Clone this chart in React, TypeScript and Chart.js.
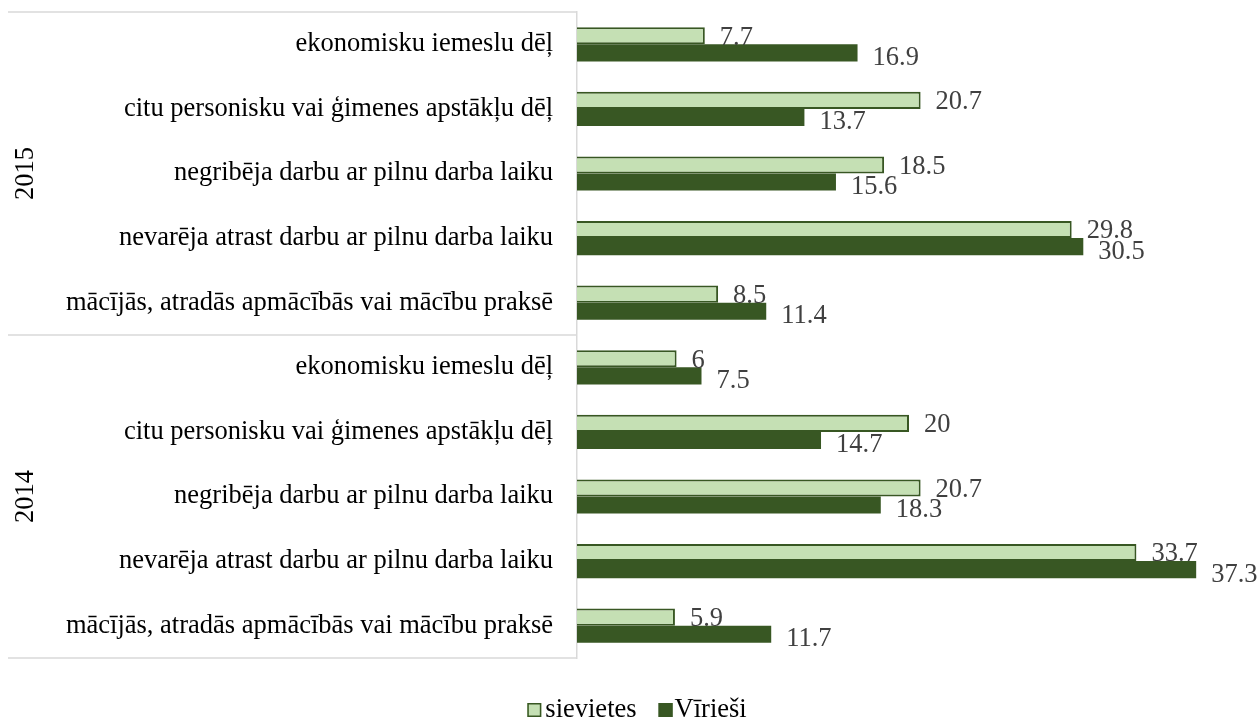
import React, { useEffect, useRef } from "react";
import { Chart, registerables } from "chart.js";

Chart.register(...registerables);

const years = ["2015", "2014"];
const reasons = [
  "ekonomisku iemeslu dēļ",
  "citu personisku vai ģimenes apstākļu dēļ",
  "negribēja darbu ar pilnu darba laiku",
  "nevarēja atrast darbu ar pilnu darba laiku",
  "mācījās, atradās apmācībās vai mācību praksē",
];
const categories = [...reasons, ...reasons];
const sievietes = [7.7, 20.7, 18.5, 29.8, 8.5, 6, 20, 20.7, 33.7, 5.9];
const virtiesi = [16.9, 13.7, 15.6, 30.5, 11.4, 7.5, 14.7, 18.3, 37.3, 11.7];
const seriesNames = ["sievietes", "Vīrieši"];

const FONT = "'Liberation Serif', 'Times New Roman', serif";
const LIGHT = "#C5E0B4";
const DARK = "#385723";

const decorPlugin = {
  id: "decor",
  afterDraw(chart: any) {
    const ctx = chart.ctx;
    const area = chart.chartArea;
    const y = chart.scales.y;
    ctx.save();
    // group box lines
    const mid = (y.getPixelForValue(4) + y.getPixelForValue(5)) / 2;
    ctx.strokeStyle = "#d9d9d9";
    ctx.lineWidth = 1.5;
    [area.top, mid, area.bottom].forEach((yy) => {
      ctx.beginPath();
      ctx.moveTo(8, yy);
      ctx.lineTo(area.left, yy);
      ctx.stroke();
    });
    // year labels
    ctx.fillStyle = "#000";
    ctx.font = `26.5px ${FONT}`;
    ctx.textAlign = "center";
    ctx.textBaseline = "middle";
    const groups = [
      [area.top, mid],
      [mid, area.bottom],
    ];
    years.forEach((yr, i) => {
      const cy = (groups[i][0] + groups[i][1]) / 2;
      ctx.save();
      ctx.translate(26, cy);
      ctx.rotate(-Math.PI / 2);
      ctx.fillText(yr, 0, 0);
      ctx.restore();
    });
    // data labels
    ctx.fillStyle = "#404040";
    ctx.textAlign = "left";
    chart.data.datasets.forEach((ds: any, di: number) => {
      const meta = chart.getDatasetMeta(di);
      meta.data.forEach((el: any, i: number) => {
        const off = di === 0 ? 2 : 5;
        ctx.fillText(String(ds.data[i]), el.x + 15, el.y + off);
      });
    });
    // legend
    ctx.font = `26.5px ${FONT}`;
    ctx.textBaseline = "alphabetic";
    const w1 = ctx.measureText(seriesNames[0]).width;
    const w2 = ctx.measureText(seriesNames[1]).width;
    const box = 14;
    const total = box + 4 + w1 + 22 + box + 2 + w2;
    let x = 637 - total / 2;
    const base = 717;
    chart.data.datasets.forEach((ds: any, di: number) => {
      ctx.fillStyle = ds.backgroundColor;
      ctx.fillRect(x, base - box, box, box);
      ctx.strokeStyle = ds.borderColor;
      ctx.lineWidth = 1.5;
      ctx.strokeRect(x + 0.75, base - box + 0.75, box - 1.5, box - 1.5);
      x += box + (di === 0 ? 4 : 2);
      ctx.fillStyle = "#000";
      ctx.fillText(seriesNames[di], x, base);
      x += (di === 0 ? w1 : w2) + 22;
    });
    ctx.restore();
  },
};

export default function App() {
  const ref = useRef<HTMLCanvasElement>(null);
  useEffect(() => {
    const chart = new Chart(ref.current as HTMLCanvasElement, {
      type: "bar",
      data: {
        labels: categories,
        datasets: [
          {
            label: seriesNames[0],
            data: sievietes,
            backgroundColor: LIGHT,
            borderColor: DARK,
            borderWidth: 2,
            categoryPercentage: 0.53,
            barPercentage: 1,
          },
          {
            label: seriesNames[1],
            data: virtiesi,
            backgroundColor: DARK,
            borderColor: DARK,
            borderWidth: 0,
            categoryPercentage: 0.53,
            barPercentage: 1,
          },
        ],
      },
      options: {
        indexAxis: "y",
        responsive: false,
        animation: false,
        layout: { padding: { left: 0, top: 12, right: 18, bottom: 61 } },
        plugins: {
          legend: { display: false },
          tooltip: { enabled: false },
        },
        scales: {
          x: { min: 0, max: 40, display: false },
          y: {
            type: "category",
            grid: { display: false, drawTicks: false },
            border: { display: true, color: "#d9d9d9", width: 1.5 },
            ticks: {
              color: "#000",
              padding: 24,
              font: { family: FONT, size: 26.5 },
            },
            afterFit: (scale: any) => {
              scale.width = 577;
              scale.paddingTop = 0;
              scale.paddingBottom = 0;
            },
          },
        },
      },
      plugins: [decorPlugin],
    } as any);
    return () => chart.destroy();
  }, []);
  return (
    <div style={{ position: "absolute", left: 0, top: 0, width: 1259, height: 719 }}>
      <canvas ref={ref} width={1259} height={719} />
    </div>
  );
}
